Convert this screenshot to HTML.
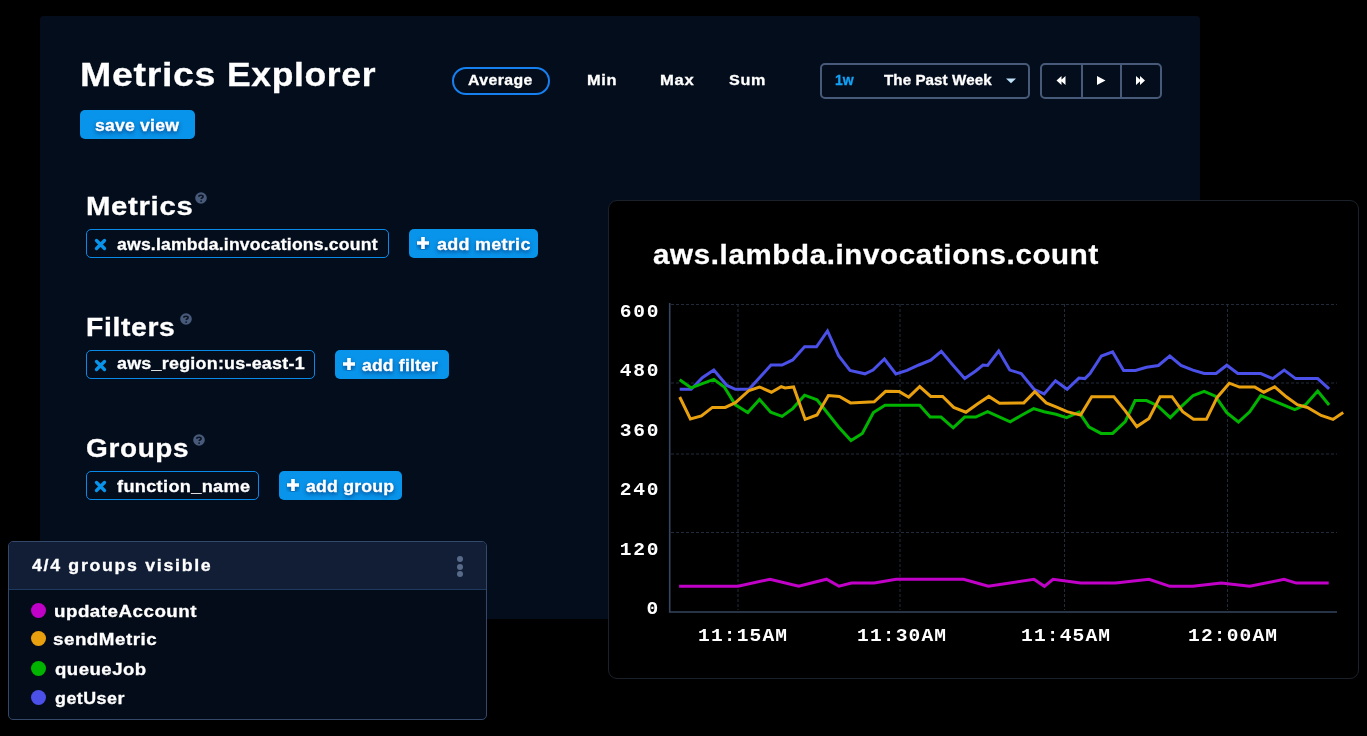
<!DOCTYPE html>
<html><head><meta charset="utf-8">
<style>
*{box-sizing:border-box;margin:0;padding:0}
html,body{width:1367px;height:736px;overflow:hidden;background:#000}
body{position:relative;font-family:"Liberation Sans",sans-serif;font-weight:bold;color:#fff}
.t{-webkit-text-stroke:0.3px currentColor;will-change:transform}
.mono{-webkit-text-stroke:0}
.a{position:absolute;white-space:nowrap}
#panel{position:absolute;left:40px;top:16px;width:1160px;height:603px;background:#040d1c;border-radius:4px}
.t{position:absolute;white-space:nowrap;line-height:1}
.btn{position:absolute;background:#0894ea;border-radius:5px}
.btn .t{text-shadow:0 2px 4px rgba(0,30,90,.75)}
.chip{position:absolute;border:1.5px solid #0a8ae8;border-radius:5px;background:#040d1c}
.q{position:absolute;width:12px;height:12px;border-radius:50%;background:#4a5a7a;color:#0a1222;font-size:9px;line-height:12px;text-align:center}
.box{position:absolute;border:2px solid #475a79;border-radius:5px}
#chart{position:absolute;left:608px;top:200px;width:751px;height:479px;background:#000;border:1px solid #1b212b;border-radius:9px}
#legend{position:absolute;left:8px;top:541px;width:479px;height:179px;background:#050c19;border:1.5px solid #34486a;border-radius:5px;overflow:hidden}
#lhead{position:absolute;left:0;top:0;right:0;height:48px;background:#111e36;border-bottom:1.5px solid #1d3a5e}
.dot{position:absolute;width:15px;height:15px;border-radius:50%}
.mono{font-family:"Liberation Mono",monospace;font-weight:bold;transform:scaleX(1.03)}
.yl{transform-origin:100% 50%}
.xl{transform-origin:0 50%}
</style></head><body>
<div id="panel"></div>

<div class="t" id="title" style="left:79.60px;top:57.60px;font-size:33px;letter-spacing:0.6px;transform:scaleX(1.1370);transform-origin:0 0">Metrics</div>
<div class="t" id="title2" style="left:227.46px;top:57.60px;font-size:33px;letter-spacing:0.6px;transform:scaleX(1.0752);transform-origin:0 0">Explorer</div>

<div class="a" style="left:452px;top:67px;width:98px;height:28px;border:2px solid #1680f0;border-radius:14px"></div>
<div class="t" id="avg" style="left:468.00px;top:71.80px;font-size:15px;letter-spacing:0.40px;transform:scaleX(1.0554);transform-origin:0 0">Average</div>
<div class="t" id="min" style="left:587.36px;top:71.90px;font-size:15px;letter-spacing:0.60px;transform:scaleX(1.0928);transform-origin:0 0">Min</div>
<div class="t" id="max" style="left:659.52px;top:71.90px;font-size:15px;letter-spacing:0.60px;transform:scaleX(1.1067);transform-origin:0 0">Max</div>
<div class="t" id="sum" style="left:729.33px;top:71.90px;font-size:15px;letter-spacing:0.60px;transform:scaleX(1.0756);transform-origin:0 0">Sum</div>

<div class="box" style="left:820px;top:63px;width:210px;height:36px"></div>
<div class="t" id="w1" style="left:834.8px;top:73px;font-size:14px;color:#12a2f6">1w</div>
<div class="t" id="past" style="left:884.40px;top:72.9px;font-size:14.4px;letter-spacing:0.07px;transform:scaleX(1.0529);transform-origin:0 0">The Past Week</div>
<svg class="a" style="left:1005px;top:78px" width="12" height="6"><path d="M1 0.5 L11 0.5 L6 5.3 Z" fill="#bfe2fb"/></svg>

<div class="box" style="left:1040px;top:63px;width:122px;height:36px"></div>
<div class="a" style="left:1081px;top:64px;width:2px;height:34px;background:#475a79"></div>
<div class="a" style="left:1120px;top:64px;width:2px;height:34px;background:#475a79"></div>
<svg class="a" style="left:1055px;top:75px" width="12" height="11"><path d="M1.5 5.5 L6.5 1 L6.5 10 Z M5.5 5.5 L10.5 1 L10.5 10 Z" fill="#fff"/></svg>
<svg class="a" style="left:1096px;top:75px" width="11" height="11"><path d="M1 1 L9.5 5.5 L1 10 Z" fill="#fff"/></svg>
<svg class="a" style="left:1135px;top:75px" width="12" height="11"><path d="M1 1 L6 5.5 L1 10 Z M5 1 L10 5.5 L5 10 Z" fill="#fff"/></svg>

<div class="btn" style="left:80px;top:110px;width:115px;height:29px"><div class="t" id="save" style="left:15.27px;top:6.7px;font-size:17px;letter-spacing:0.19px;transform:scaleX(1.0366);transform-origin:0 0">save view</div></div>

<div class="t" id="hmet" style="left:85.90px;top:192.5px;font-size:26px;letter-spacing:0.60px;transform:scaleX(1.1279);transform-origin:0 0">Metrics</div>
<svg class="a" style="left:194.5px;top:192.4px" width="12" height="12"><circle cx="6" cy="6" r="5.8" fill="#485a7a"/><path d="M3.8 4.7 C3.8 3.6 4.8 3.2 6 3.2 C7.2 3.2 8.1 3.9 8.1 4.8 C8.1 5.7 6.9 5.9 6.3 6.5 L6.1 7.0" stroke="#0b1224" stroke-width="1.6" fill="none" stroke-linecap="butt"/><circle cx="6.1" cy="9.1" r="0.9" fill="#0b1224"/></svg>
<div class="chip" style="left:86px;top:229px;width:303px;height:29px"></div>
<svg class="a" style="left:94px;top:238px" width="13" height="13"><path d="M2.5 2.5 L10.5 10.5 M10.5 2.5 L2.5 10.5" stroke="#0894ea" stroke-width="3.3" stroke-linecap="round"/></svg>
<div class="t" id="cmet" style="left:116.60px;top:235.5px;font-size:17px;letter-spacing:0.18px;transform:scaleX(1.0364);transform-origin:0 0">aws.lambda.invocations.count</div>
<div class="btn" style="left:409px;top:229px;width:129px;height:29px"></div>
<svg class="a" style="left:416px;top:236px" width="14" height="14"><path d="M7 1 V13 M1 7 H13" stroke="#fff" stroke-width="3.6" style="filter:drop-shadow(0 2px 2px rgba(0,30,90,.6))"/></svg>
<div class="t" id="amet" style="left:436.60px;top:235.5px;font-size:17px;letter-spacing:0.27px;transform:scaleX(1.0562);transform-origin:0 0;text-shadow:0 2px 4px rgba(0,30,90,.75)">add metric</div>

<div class="t" id="hfil" style="left:85.92px;top:313.5px;font-size:26px;letter-spacing:0.58px;transform:scaleX(1.0901);transform-origin:0 0">Filters</div>
<svg class="a" style="left:180.2px;top:313.1px" width="12" height="12"><circle cx="6" cy="6" r="5.8" fill="#485a7a"/><path d="M3.8 4.7 C3.8 3.6 4.8 3.2 6 3.2 C7.2 3.2 8.1 3.9 8.1 4.8 C8.1 5.7 6.9 5.9 6.3 6.5 L6.1 7.0" stroke="#0b1224" stroke-width="1.6" fill="none" stroke-linecap="butt"/><circle cx="6.1" cy="9.1" r="0.9" fill="#0b1224"/></svg>
<div class="chip" style="left:86px;top:350px;width:229px;height:29px"></div>
<svg class="a" style="left:94px;top:359px" width="13" height="13"><path d="M2.5 2.5 L10.5 10.5 M10.5 2.5 L2.5 10.5" stroke="#0894ea" stroke-width="3.3" stroke-linecap="round"/></svg>
<div class="t" id="cfil" style="left:117.20px;top:354.5px;font-size:17px;letter-spacing:0.24px;transform:scaleX(1.0516);transform-origin:0 0">aws_region:us-east-1</div>
<div class="btn" style="left:335px;top:350px;width:114px;height:29px"></div>
<svg class="a" style="left:342px;top:357px" width="14" height="14"><path d="M7 1 V13 M1 7 H13" stroke="#fff" stroke-width="3.6" style="filter:drop-shadow(0 2px 2px rgba(0,30,90,.6))"/></svg>
<div class="t" id="afil" style="left:361.51px;top:357px;font-size:17px;letter-spacing:0.18px;transform:scaleX(1.0334);transform-origin:0 0;text-shadow:0 2px 4px rgba(0,30,90,.75)">add filter</div>

<div class="t" id="hgrp" style="left:86.01px;top:434.70px;font-size:26px;letter-spacing:0.60px;transform:scaleX(1.0754);transform-origin:0 0">Groups</div>
<svg class="a" style="left:193.1px;top:434.3px" width="12" height="12"><circle cx="6" cy="6" r="5.8" fill="#485a7a"/><path d="M3.8 4.7 C3.8 3.6 4.8 3.2 6 3.2 C7.2 3.2 8.1 3.9 8.1 4.8 C8.1 5.7 6.9 5.9 6.3 6.5 L6.1 7.0" stroke="#0b1224" stroke-width="1.6" fill="none" stroke-linecap="butt"/><circle cx="6.1" cy="9.1" r="0.9" fill="#0b1224"/></svg>
<div class="chip" style="left:86px;top:471px;width:173px;height:29px"></div>
<svg class="a" style="left:94px;top:480px" width="13" height="13"><path d="M2.5 2.5 L10.5 10.5 M10.5 2.5 L2.5 10.5" stroke="#0894ea" stroke-width="3.3" stroke-linecap="round"/></svg>
<div class="t" id="cgrp" style="left:116.90px;top:477.5px;font-size:17px;letter-spacing:0.33px;transform:scaleX(1.0650);transform-origin:0 0">function_name</div>
<div class="btn" style="left:279px;top:471px;width:123px;height:29px"></div>
<svg class="a" style="left:286px;top:478px" width="14" height="14"><path d="M7 1 V13 M1 7 H13" stroke="#fff" stroke-width="3.6" style="filter:drop-shadow(0 2px 2px rgba(0,30,90,.6))"/></svg>
<div class="t" id="agrp" style="left:306.20px;top:477.5px;font-size:17px;letter-spacing:0.18px;transform:scaleX(1.0422);transform-origin:0 0;text-shadow:0 2px 4px rgba(0,30,90,.75)">add group</div>

<div id="chart"></div>
<div class="t" id="ctitle" style="left:652.80px;top:242px;font-size:27px;letter-spacing:0.60px;transform:scaleX(1.0919);transform-origin:0 0">aws.lambda.invocations.count</div>

<svg class="a" style="left:0;top:0" width="1367" height="736">
 <g stroke="#222b3a" stroke-width="1" stroke-dasharray="3 2" fill="none">
  <path d="M671 304.5 H1337 M671 383 H1337 M671 454 H1337 M671 532.5 H1337"/>
  <path d="M738 304 V610 M900 304 V610 M1064.5 304 V610 M1227.5 304 V610"/>
 </g>
 <path d="M669.7 303 V612 H1337" stroke="#34465f" stroke-width="1.6" fill="none"/>
 <g fill="none" stroke-width="3" stroke-linejoin="miter">
 <polyline stroke="#4a50e8" points="679.7,389.3 691.2,389.3 702.3,377.7 713.8,370.1 726.9,385.4 735.4,389.3 749,389.3 771,365 782,365 792.7,359.9 804.6,346.8 816.5,346.8 827.5,331 838.6,355.7 850,370.4 864.9,373.8 873,370 884.4,359 895.9,374 907,370.4 918.9,365 930.7,360.2 941.3,351.4 952.8,365 964.7,378.6 975.7,371 983,365 987.6,365.5 998.7,351 1009.8,370.1 1021.2,373.5 1034,389.3 1044.1,393.9 1055.5,380.8 1067.1,389.3 1078.9,378.1 1084.9,378.6 1090,373.5 1101.4,356 1112.6,351.9 1123.6,370.4 1135.5,370.4 1146.5,367.2 1158.4,365.5 1169.8,356 1181,365.5 1192.9,370.1 1204.2,373.5 1216.1,373.5 1226.8,365.2 1237.8,373.5 1260.8,373.5 1272.7,378.6 1284.2,370.1 1295.6,378.6 1317.7,378.6 1329.1,388.8"/>
 <polyline stroke="#00b400" points="679.7,379.8 691.2,387.9 702.3,383.7 713.8,379.4 724.3,387 735.4,404.9 747.8,412.5 759.5,399.5 770.7,412.2 782,416.4 792.7,408.6 804.6,395.2 817,399.8 838.6,427 851,440.5 862.3,433.4 873.4,412.5 885,405.2 919.7,405.2 930.2,417.1 941,417.1 953.2,427.8 964.7,417.1 975.7,417.1 987.6,411.7 1010.2,421.9 1022,415 1033.6,408.6 1044.1,411.7 1056,414.2 1066.6,417.6 1079,412.2 1089.1,427 1101,433.4 1112.6,433.4 1125.3,421.5 1135.1,400.6 1146.5,400.6 1157.5,405.7 1170.3,417.6 1181,406.9 1193.2,395.5 1204.2,391.3 1215.3,396.1 1226.8,412.6 1238.4,422 1249.7,411.8 1260.8,395.6 1294.8,409.7 1305.8,404.6 1317.7,391 1329.1,405"/>
 <polyline stroke="#e8a00f" points="679.7,397 690.4,419 701.4,416 712.4,407.4 725.2,407.4 735.4,402.7 749,390.5 759.5,387 771.4,392.2 781.2,386.6 785,388 793.6,387 805.1,419.3 817,415 828.4,395.5 839.4,396.4 850.5,402.9 874.2,401.8 885.6,391.3 899.3,391.6 908.7,397.2 919.7,386.6 930.7,396.4 942.6,396.4 953.7,407.4 965.9,412.2 977.4,404 988.8,396.4 999.5,403.2 1023.8,402.9 1034.8,391.6 1046.2,402.9 1056,406.9 1067.1,411.7 1080.6,415.1 1091.7,396.7 1113.8,396.7 1125.3,410.8 1136.8,426.6 1149,418.5 1160.1,396.7 1172,396.7 1182.7,411.7 1193.5,419.3 1206.4,419.3 1217.3,397.2 1229.3,383.2 1239.5,387.1 1254.8,387.1 1263.8,392.2 1274.7,386.8 1286.3,396.8 1297.3,404.6 1307.5,407.5 1321.1,415.5 1333,419.4 1343.2,412.6"/>
 <polyline stroke="#c100c8" points="679.1,586.2 738,586.2 770,579.2 798.7,586.2 826.5,579.2 839,586.2 851.4,583 874.2,583 896.1,579.3 963.6,579.3 988.3,586.3 1034,579.3 1044.4,586.3 1053,579.3 1080.6,583.1 1115.7,583.1 1149,579.3 1169.9,586.3 1192.7,586.3 1221.2,583.1 1249.8,586.3 1284,579.3 1296.3,583.1 1328.7,583.1"/>
 </g>
</svg>

<div class="t mono yl" id="y600" style="right:706.6px;top:302.6px;font-size:19px;letter-spacing:1.65px">600</div>
<div class="t mono yl" id="y480" style="right:706.6px;top:362px;font-size:19px;letter-spacing:1.65px">480</div>
<div class="t mono yl" id="y360" style="right:706.6px;top:421.5px;font-size:19px;letter-spacing:1.65px">360</div>
<div class="t mono yl" id="y240" style="right:706.6px;top:481px;font-size:19px;letter-spacing:1.65px">240</div>
<div class="t mono yl" id="y120" style="right:706.6px;top:540.5px;font-size:19px;letter-spacing:1.65px">120</div>
<div class="t mono yl" id="y0" style="right:706.6px;top:600px;font-size:19px;letter-spacing:1.65px">0</div>

<div class="t mono xl" id="x1" style="left:697.5px;top:627px;font-size:19px;letter-spacing:1.1px">11:15AM</div>
<div class="t mono xl" id="x2" style="left:856.5px;top:627px;font-size:19px;letter-spacing:1.1px">11:30AM</div>
<div class="t mono xl" id="x3" style="left:1020.5px;top:627px;font-size:19px;letter-spacing:1.1px">11:45AM</div>
<div class="t mono xl" id="x4" style="left:1187.6px;top:627px;font-size:19px;letter-spacing:1.1px">12:00AM</div>

<div id="legend">
 <div id="lhead"></div>
 <div class="t" id="lh" style="left:22.86px;top:15.20px;font-size:17px;letter-spacing:1.6px;transform:scaleX(1.0463);transform-origin:0 0">4/4 groups visible</div>
 <div class="a" style="left:448px;top:14px;width:6px;height:6px;border-radius:50%;background:#586a8a"></div>
 <div class="a" style="left:448px;top:22px;width:6px;height:6px;border-radius:50%;background:#586a8a"></div>
 <div class="a" style="left:448px;top:29px;width:6px;height:6px;border-radius:50%;background:#586a8a"></div>
 <div class="dot" style="left:21.5px;top:60.5px;background:#c100c8"></div>
 <div class="t" id="l1" style="left:45.43px;top:60.50px;font-size:17px;letter-spacing:0.45px;transform:scaleX(1.1036);transform-origin:0 0">updateAccount</div>
 <div class="dot" style="left:21.5px;top:88.5px;background:#e8a00f"></div>
 <div class="t" id="l2" style="left:43.68px;top:89px;font-size:17px;letter-spacing:0.45px;transform:scaleX(1.1043);transform-origin:0 0">sendMetric</div>
 <div class="dot" style="left:21.5px;top:118.5px;background:#00b400"></div>
 <div class="t" id="l3" style="left:46.06px;top:119px;font-size:17px;letter-spacing:0.45px;transform:scaleX(1.0929);transform-origin:0 0">queueJob</div>
 <div class="dot" style="left:21.5px;top:147.5px;background:#4a50e8"></div>
 <div class="t" id="l4" style="left:45.53px;top:148.00px;font-size:17px;letter-spacing:0.45px;transform:scaleX(1.0512);transform-origin:0 0">getUser</div>
</div>
</body></html>
